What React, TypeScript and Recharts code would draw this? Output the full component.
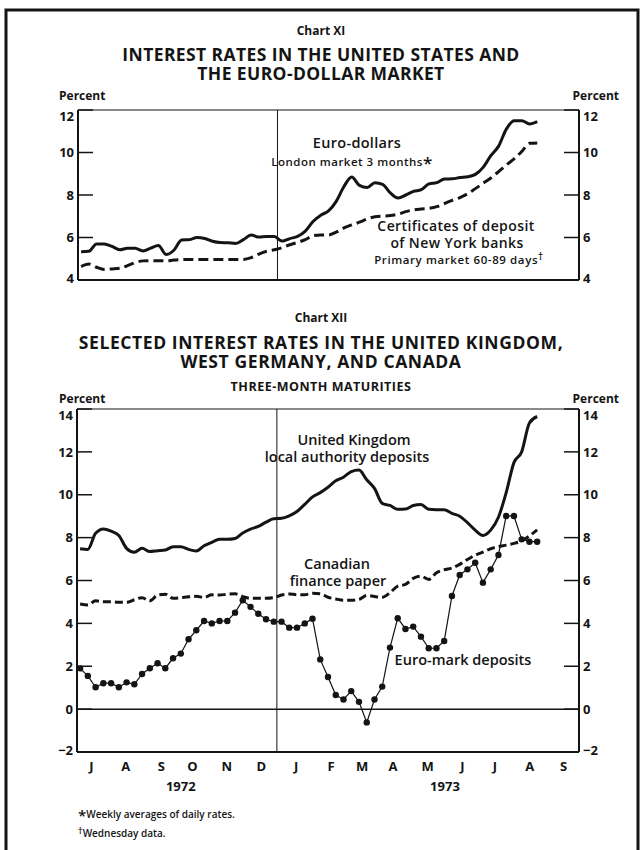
import React from 'react';
import { LineChart, Line, XAxis, YAxis, ReferenceLine } from 'recharts';

const euroDollars = [
  5.33, 5.35, 5.7, 5.7, 5.58, 5.42, 5.5, 5.49, 5.37, 5.5,
  5.62, 5.2, 5.4, 5.88, 5.9, 6.0, 5.95, 5.82, 5.76, 5.75,
  5.72, 5.9, 6.12, 6.02, 6.05, 6.05, 5.83, 5.95, 6.05, 6.3,
  6.75, 7.05, 7.25, 7.7, 8.4, 8.85, 8.45, 8.35, 8.58, 8.5,
  8.1, 7.86, 8.0, 8.17, 8.25, 8.52, 8.58, 8.75, 8.76, 8.82,
  8.86, 8.97, 9.3, 9.85, 10.3, 11.1, 11.5, 11.5, 11.34, 11.45,
];
const nyCDs = [
  4.63, 4.75, 4.6, 4.5, 4.52, 4.55, 4.68, 4.82, 4.9, 4.91,
  4.91, 4.9, 4.94, 4.96, 4.97, 4.97, 4.97, 4.97, 4.97, 4.97,
  4.97, 4.97, 5.05, 5.22, 5.35, 5.42, 5.52, 5.66, 5.77, 5.9,
  6.08, 6.12, 6.12, 6.25, 6.45, 6.59, 6.72, 6.87, 6.98, 7.01,
  7.03, 7.1, 7.22, 7.3, 7.34, 7.37, 7.45, 7.6, 7.75, 7.88,
  8.06, 8.3, 8.55, 8.8, 9.1, 9.41, 9.7, 10.05, 10.43, 10.45,
];
const ukLocal = [
  7.48, 7.45, 8.2, 8.4, 8.3, 8.1, 7.5, 7.32, 7.5, 7.35,
  7.39, 7.42, 7.58, 7.58, 7.45, 7.38, 7.62, 7.78, 7.92, 7.92,
  7.96, 8.22, 8.4, 8.52, 8.72, 8.88, 8.9, 9.02, 9.22, 9.55,
  9.9, 10.1, 10.35, 10.65, 10.82, 11.08, 11.15, 10.7, 10.3, 9.6,
  9.5, 9.32, 9.33, 9.5, 9.55, 9.32, 9.3, 9.3, 9.13, 9.0,
  8.7, 8.35, 8.1, 8.35, 8.95, 10.1, 11.5, 12.0, 13.35, 13.65,
];
const canadaPaper = [
  4.9, 4.86, 5.05, 5.01, 5.01, 4.98, 4.98, 5.1, 5.2, 5.05,
  5.32, 5.36, 5.17, 5.2, 5.24, 5.26, 5.21, 5.33, 5.32, 5.36,
  5.38, 5.25, 5.17, 5.17, 5.17, 5.2, 5.32, 5.37, 5.34, 5.34,
  5.4, 5.38, 5.22, 5.14, 5.08, 5.08, 5.12, 5.3, 5.25, 5.22,
  5.43, 5.74, 5.82, 6.1, 6.2, 6.05, 6.36, 6.5, 6.58, 6.75,
  6.98, 7.18, 7.32, 7.48, 7.58, 7.65, 7.73, 7.85, 8.08, 8.36,
];
const euroMark = [
  1.9, 1.55, 1.02, 1.21, 1.21, 1.02, 1.25, 1.16, 1.64, 1.91,
  2.14, 1.91, 2.37, 2.59, 3.26, 3.68, 4.11, 4.0, 4.11, 4.11,
  4.5, 5.08, 4.77, 4.45, 4.19, 4.08, 4.08, 3.8, 3.8, 4.0,
  4.22, 2.32, 1.5, 0.66, 0.45, 0.84, 0.34, -0.62, 0.45, 1.05,
  2.87, 4.24, 3.74, 3.85, 3.38, 2.84, 2.84, 3.18, 5.28, 6.26,
  6.52, 6.83, 5.9, 6.52, 7.19, 9.01, 9.01, 7.92, 7.81, 7.81,
];

// x axis is in weeks from 1 Jul 1972; month boundaries as drawn
const monthBounds = [0, 3.7, 8.9, 12.9, 16.9, 21.8, 25.8, 30.8, 34.8, 38.8, 42.8, 47.7, 51.8, 56.1, 60.8, 64.8];
const monthLabels = ['J', 'A', 'S', 'O', 'N', 'D', 'J', 'F', 'M', 'A', 'M', 'J', 'J', 'A', 'S'];
const yearTicks = [13.4, 47.5];
const yearLabels = ['1972', '1973'];
const yearEnd = 25.8;

const ticksXI = [4, 6, 8, 10, 12];
const ticksXII = [-2, 0, 2, 4, 6, 8, 10, 12, 14];

const weeks = euroDollars.map((_, i) => i + 0.4);
const dataXI = weeks.map((w, i) => ({ week: w, euroDollars: euroDollars[i], nyCDs: nyCDs[i] }));
const dataXII = weeks.map((w, i) => ({
  week: w,
  uk: ukLocal[i],
  canada: canadaPaper[i],
  euroMark: euroMark[i],
}));
const monthCenters = monthLabels.map((_, i) => (monthBounds[i] + monthBounds[i + 1]) / 2);
const X_DOMAIN = [0, monthBounds[monthBounds.length - 1]];

const FONT = "'Open Sans', 'DejaVu Sans', sans-serif";
const INK = '#141414';
const tickStyle = { fill: INK, fontSize: 13, fontWeight: 700, fontFamily: FONT };
const fmt = (v: number) => (v < 0 ? `\u2212${Math.abs(v)}` : String(v));

// end labels sit a little inside the frame, as in the original
const yTick = (min: number, max: number) => (props: any) => {
  const { x, y, payload, textAnchor } = props;
  const shift = payload.value === max ? 6 : payload.value === min ? -2 : 0;
  return (
    <text x={x} y={y + shift} dy="0.36em" textAnchor={textAnchor} fontSize={13} fontWeight={700} fontFamily={FONT} fill={INK}>
      {fmt(payload.value)}
    </text>
  );
};

const yAxes = (domain: number[], ticks: number[], leftWidth: number) => [
  <YAxis
    key="l"
    yAxisId="l"
    orientation="left"
    width={leftWidth}
    type="number"
    domain={domain}
    ticks={ticks}
    interval={0}
    allowDataOverflow
    tickSize={-15}
    tickMargin={19}
    tick={yTick(domain[0], domain[1])}
    axisLine={{ stroke: INK, strokeWidth: 2 }}
    tickLine={{ stroke: INK, strokeWidth: 1.5 }}
  />,
  <YAxis
    key="r"
    yAxisId="r"
    orientation="right"
    width={63}
    type="number"
    domain={domain}
    ticks={ticks}
    interval={0}
    allowDataOverflow
    tickSize={-15}
    tickMargin={19}
    tick={yTick(domain[0], domain[1])}
    axisLine={{ stroke: INK, strokeWidth: 2 }}
    tickLine={{ stroke: INK, strokeWidth: 1.5 }}
  />,
];

const boundaryAxis = (
  <XAxis
    xAxisId="b"
    dataKey="week"
    type="number"
    domain={X_DOMAIN}
    ticks={monthBounds}
    interval={0}
    allowDataOverflow
    height={1}
    tick={false}
    tickSize={-14}
    axisLine={{ stroke: INK, strokeWidth: 2 }}
    tickLine={{ stroke: INK, strokeWidth: 1.5 }}
  />
);

const ChartXI = () => (
  <LineChart width={642} height={190} data={dataXI} margin={{ top: 10, right: 0, bottom: 9, left: 0 }}>
    {boundaryAxis}
    {yAxes([4, 12], ticksXI, 78)}
    <ReferenceLine xAxisId="b" yAxisId="l" y={12} stroke={INK} strokeWidth={1} />
    <ReferenceLine xAxisId="b" yAxisId="l" x={yearEnd} stroke={INK} strokeWidth={1} />
    <Line xAxisId="b" yAxisId="l" dataKey="euroDollars" type="monotone" stroke={INK} strokeWidth={3} dot={false} isAnimationActive={false} />
    <Line xAxisId="b" yAxisId="l" dataKey="nyCDs" type="monotone" stroke={INK} strokeWidth={3} strokeDasharray="10 5" dot={false} isAnimationActive={false} />
  </LineChart>
);

const ChartXII = () => (
  <LineChart width={642} height={403} data={dataXII} margin={{ top: 10, right: 0, bottom: 4, left: 0 }}>
    {boundaryAxis}
    <XAxis
      xAxisId="m"
      dataKey="week"
      type="number"
      domain={X_DOMAIN}
      ticks={monthCenters}
      interval={0}
      allowDataOverflow
      height={20}
      axisLine={false}
      tickLine={false}
      tickSize={0}
      tickMargin={9}
      tickFormatter={(v: number) => monthLabels[monthCenters.indexOf(v)]}
      tick={tickStyle}
    />
    <XAxis
      xAxisId="y"
      dataKey="week"
      type="number"
      domain={X_DOMAIN}
      ticks={yearTicks}
      interval={0}
      allowDataOverflow
      height={25}
      axisLine={false}
      tickLine={false}
      tickSize={0}
      tickMargin={9}
      tickFormatter={(v: number) => yearLabels[yearTicks.indexOf(v)]}
      tick={tickStyle}
    />
    {yAxes([-2, 14], ticksXII, 77)}
    <ReferenceLine xAxisId="b" yAxisId="l" y={14} stroke={INK} strokeWidth={1} />
    <ReferenceLine xAxisId="b" yAxisId="l" y={0} stroke={INK} strokeWidth={1.5} />
    <ReferenceLine xAxisId="b" yAxisId="l" x={yearEnd} stroke={INK} strokeWidth={1} />
    <Line xAxisId="b" yAxisId="l" dataKey="uk" type="monotone" stroke={INK} strokeWidth={3} dot={false} isAnimationActive={false} />
    <Line xAxisId="b" yAxisId="l" dataKey="canada" type="monotone" stroke={INK} strokeWidth={3} strokeDasharray="8 4" dot={false} isAnimationActive={false} />
    <Line
      xAxisId="b"
      yAxisId="l"
      dataKey="euroMark"
      type="linear"
      stroke={INK}
      strokeWidth={1.2}
      dot={{ r: 3.2, fill: INK, stroke: INK, strokeWidth: 0 }}
      isAnimationActive={false}
    />
  </LineChart>
);

const T = ({ x, y, size = 13, w = 700, ls = 0, anchor = 'middle', children }: any) => (
  <text x={x} y={y} fontSize={size} fontWeight={w} letterSpacing={ls} textAnchor={anchor} fontFamily={FONT} fill={INK}>
    {children}
  </text>
);

// a stacked label: one text element, one tspan per line
const Block = ({ x, y, size, w = 600, ls = 0, lines }: any) => (
  <text x={x} y={y} fontSize={size} fontWeight={w} letterSpacing={ls} textAnchor="middle" fontFamily={FONT} fill={INK}>
    {lines.map((l: any, i: number) => (
      <tspan key={i} x={l.x ?? x} dy={i === 0 ? 0 : l.dy} fontSize={l.size ?? size} letterSpacing={l.ls ?? ls}>
        {l.text}
        {l.mark ? <tspan fontSize={l.markSize} dy={l.markDy}>{l.mark}</tspan> : null}
      </tspan>
    ))}
  </text>
);

const Overlay = () => (
  <svg width={642} height={850} style={{ position: 'absolute', left: 0, top: 0, pointerEvents: 'none' }}>
    <rect x={6} y={10} width={632} height={850} fill="none" stroke={INK} strokeWidth={3} />

    <T x={321} y={35} size={12}>Chart XI</T>
    <Block
      x={321}
      y={61}
      size={17.5}
      w={700}
      ls={0.4}
      lines={[
        { text: 'INTEREST RATES IN THE UNITED STATES AND' },
        { text: 'THE EURO-DOLLAR MARKET', dy: 19 },
      ]}
    />
    <T x={59} y={100} size={12} anchor="start">Percent</T>
    <T x={619} y={100} size={12} anchor="end">Percent</T>
    <Block
      x={357}
      y={148}
      size={14.5}
      ls={0.3}
      lines={[
        { text: 'Euro-dollars' },
        { text: 'London market 3 months', x: 352, dy: 18, size: 11.5, ls: 0.5, mark: '*', markSize: 17, markDy: 3 },
      ]}
    />
    <Block
      x={456}
      y={231}
      size={14}
      ls={0.4}
      lines={[
        { text: 'Certificates of deposit' },
        { text: 'of New York banks', x: 457, dy: 17 },
        { text: 'Primary market 60-89 days', x: 459, dy: 16, size: 11.5, ls: 0.6, mark: '\u2020', markSize: 10, markDy: -4 },
      ]}
    />

    <T x={321} y={322} size={12}>Chart XII</T>
    <Block
      x={321}
      y={349}
      size={17.5}
      w={700}
      ls={0.6}
      lines={[
        { text: 'SELECTED INTEREST RATES IN THE UNITED KINGDOM,' },
        { text: 'WEST GERMANY, AND CANADA', dy: 19 },
      ]}
    />
    <T x={321} y={391} size={12.5} ls={0.5}>THREE-MONTH MATURITIES</T>
    <T x={59} y={403} size={12} anchor="start">Percent</T>
    <T x={619} y={403} size={12} anchor="end">Percent</T>
    <Block
      x={354}
      y={445}
      size={14.5}
      lines={[
        { text: 'United Kingdom' },
        { text: 'local authority deposits', x: 347, dy: 17 },
      ]}
    />
    <Block
      x={337}
      y={569}
      size={14.5}
      lines={[
        { text: 'Canadian' },
        { text: 'finance paper', x: 338, dy: 17 },
      ]}
    />
    <T x={463} y={665} size={14.5} w={600}>Euro-mark deposits</T>

    <T x={78} y={818} size={10} w={600} anchor="start">
      <tspan fontSize={15} dy={3}>*</tspan>
      <tspan dy={-3}>Weekly averages of daily rates.</tspan>
    </T>
    <T x={78} y={837} size={10} w={600} anchor="start">
      <tspan fontSize={9} dy={-3}>†</tspan>
      <tspan dy={3}>Wednesday data.</tspan>
    </T>
  </svg>
);

export default function App() {
  return (
    <div style={{ position: 'absolute', left: 0, top: 0, width: 642, height: 850, background: '#fff', overflow: 'hidden' }}>
      <div style={{ position: 'absolute', left: 0, top: 100 }}>
        <ChartXI />
      </div>
      <div style={{ position: 'absolute', left: 0, top: 399 }}>
        <ChartXII />
      </div>
      <Overlay />
    </div>
  );
}
